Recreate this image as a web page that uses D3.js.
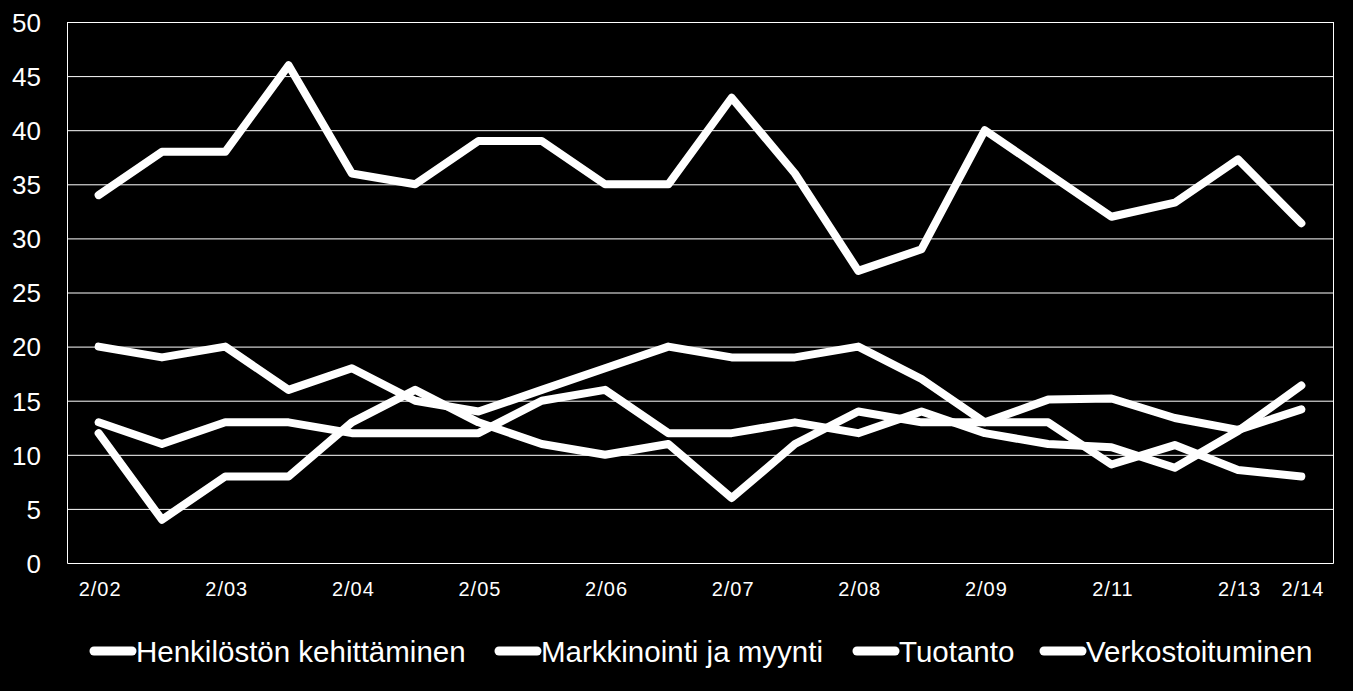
<!DOCTYPE html>
<html>
<head>
<meta charset="utf-8">
<script src="https://cdn.jsdelivr.net/npm/d3@7"></script>
<style>
  html, body { margin: 0; padding: 0; background: #000; }
  svg { display: block; }
  text { font-family: "Liberation Sans", Arial, sans-serif; fill: #fff; }
</style>
</head>
<body>
<svg id="chart" width="1353" height="691"></svg>
<script>
// ---- Data ----
const categories = ["2/02","9/02","2/03","9/03","2/04","9/04","2/05","9/05","2/06","9/06",
                    "2/07","9/07","2/08","9/08","2/09","2/10","2/11","2/12","2/13","2/14"];
const tickLabels = ["2/02","2/03","2/04","2/05","2/06","2/07","2/08","2/09","2/11","2/13","2/14"];
const yTicks = [0,5,10,15,20,25,30,35,40,45,50];

const seriesNames = ["Henkilöstön kehittäminen","Markkinointi ja myynti","Tuotanto","Verkostoituminen"];
const henkilosto = [20,19,20,16,18,15,14,16,18,20,19,19,20,17,13,15.1,15.2,13.4,12.3,14.2];
const markkinointi = [34,38,38,46,36,35,39,39,35,35,43,36,27,29,40,36,32,33.3,37.3,31.4];
const tuotanto = [13,11,13,13,12,12,12,15,16,12,12,13,12,14,12,11,10.7,8.8,12.2,16.4];
const verkostoituminen = [12,4,8,8,13,16,13,11,10,11,6,11,14,13,13,13,9.1,10.9,8.6,8.0];
const seriesValues = [henkilosto, markkinointi, tuotanto, verkostoituminen];

// ---- Layout ----
const svg = d3.select("#chart");
const W = 1353, H = 691;
svg.append("rect").attr("width", W).attr("height", H).attr("fill", "#000");

const plot = { left: 67, right: 1333, top: 22, bottom: 563 };

const x = d3.scalePoint().domain(categories).range([plot.left, plot.right]).padding(0.5);
const y = d3.scaleLinear().domain([0, 50]).range([plot.bottom, plot.top]);

// gridlines
svg.append("g").selectAll("line").data(yTicks.filter(d => d > 0)).join("line")
  .attr("x1", plot.left).attr("x2", plot.right)
  .attr("y1", d => y(d) + 0.5).attr("y2", d => y(d) + 0.5)
  .attr("stroke", "#fff").attr("stroke-width", 1);

// frame (left, right, bottom)
svg.append("path")
  .attr("d", `M${plot.left + 0.5},${plot.top}V${plot.bottom + 0.5}H${plot.right + 0.5}V${plot.top}`)
  .attr("fill", "none").attr("stroke", "#fff").attr("stroke-width", 1);

// y axis labels
const yAxis = d3.axisLeft(y).tickValues(yTicks).tickSize(0).tickPadding(0);
const gy = svg.append("g").attr("transform", `translate(41,0)`).call(yAxis);
gy.select(".domain").remove();
gy.selectAll("text").attr("fill", "#fff").style("font-size", "26px")
  .attr("dy", "0.36em");

// x axis labels
const xAxis = d3.axisBottom(x).tickValues(tickLabels).tickSize(0).tickPadding(0);
const gx = svg.append("g").attr("transform", `translate(1,${plot.bottom})`).call(xAxis);
gx.select(".domain").remove();
gx.selectAll("text").attr("fill", "#fff").style("font-size", "20px")
  .style("letter-spacing", "1px").attr("y", 33).attr("dy", 0);

// lines
const line = d3.line()
  .x((d, i) => x(categories[i]))
  .y(d => y(d));

svg.append("g").selectAll("path").data(seriesValues).join("path")
  .attr("d", d => line(d))
  .attr("fill", "none").attr("stroke", "#fff").attr("stroke-width", 8)
  .attr("stroke-linejoin", "round").attr("stroke-linecap", "round");

// legend
const legendX = [90, 495, 853, 1040];
const lg = svg.append("g");
seriesNames.forEach((name, i) => {
  const g = lg.append("g").attr("transform", `translate(${legendX[i]},651)`);
  g.append("line").attr("x1", 4).attr("x2", 42).attr("y1", 0).attr("y2", 0)
    .attr("stroke", "#fff").attr("stroke-width", 9).attr("stroke-linecap", "round");
  g.append("text").attr("x", 46).attr("y", 10.5).style("font-size", "29.5px").text(name);
});
</script>
</body>
</html>
